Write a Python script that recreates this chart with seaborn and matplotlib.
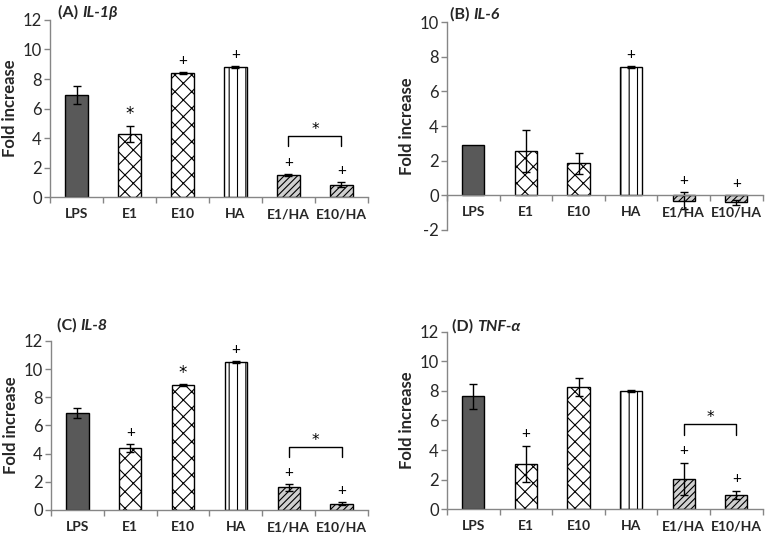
import matplotlib
matplotlib.use('Agg')
import numpy as np
import pandas as pd
import matplotlib.pyplot as plt
import seaborn as sns

# ---------------- data ----------------
categories = ['LPS', 'E1', 'E10', 'HA', 'E1/HA', 'E10/HA']

il1b_mean = [6.9, 4.3, 8.4, 8.8, 1.5, 0.85]
il1b_err = [0.6, 0.55, 0.08, 0.05, 0.05, 0.15]
il1b_marks = ['', '*', '+', '+', '+', '+']

il6_mean = [2.9, 2.55, 1.85, 7.4, -0.3, -0.4]
il6_err = [0.0, 1.2, 0.6, 0.05, 0.5, 0.15]
il6_marks = ['', '', '', '+', '+', '+']

il8_mean = [6.9, 4.4, 8.85, 10.5, 1.6, 0.45]
il8_err = [0.35, 0.3, 0.07, 0.07, 0.25, 0.12]
il8_marks = ['', '+', '*', '+', '+', '+']

tnf_mean = [7.65, 3.05, 8.25, 8.0, 2.05, 0.95]
tnf_err = [0.85, 1.25, 0.6, 0.05, 1.1, 0.3]
tnf_marks = ['', '+', '', '', '+', '+']

panel_labels = ['(A) ', '(B) ', '(C) ', '(D) ']
gene_names = ['IL-1β', 'IL-6', 'IL-8', 'TNF-α']
bracket_flags = [True, False, True, True]
y_ranges = [(0, 12), (-2, 10), (0, 12), (0, 12)]

# ---------------- style ----------------
sns.set_theme(style='white')
plt.rcParams['font.family'] = ['Lato', 'DejaVu Sans']
plt.rcParams['hatch.linewidth'] = 0.8

axis_grey = '#868686'
bar_styles = [
    dict(fc='#595959', hatch=''),
    dict(fc='white', hatch='xx'),
    dict(fc='white', hatch='xx'),
    dict(fc='white', hatch='||'),
    dict(fc='#d0d0d0', hatch='/////'),
    dict(fc='#d0d0d0', hatch='/////'),
]

fig = plt.figure(figsize=(7.65, 5.37), dpi=100)
rects = [
    [0.0654, 0.633, 0.4156, 0.3298],
    [0.5843, 0.5717, 0.4127, 0.3873],
    [0.0667, 0.0503, 0.4143, 0.3147],
    [0.5843, 0.0521, 0.4127, 0.3297],
]
title_y = [1.0, 1.0, 1.05, 0.99]
title_x = [0.025, 0.01, 0.02, 0.015]

panels = [
    (il1b_mean, il1b_err, il1b_marks),
    (il6_mean, il6_err, il6_marks),
    (il8_mean, il8_err, il8_marks),
    (tnf_mean, tnf_err, tnf_marks),
]


def style_category_axis(a):
    a.set_xlim(-0.5, 5.5)
    a.set_xticks(np.arange(-0.5, 6, 1))
    a.set_xticklabels([])
    a.set_xticks(np.arange(6), minor=True)
    a.set_xticklabels(categories, minor=True, fontweight='bold', fontsize=10)
    a.tick_params(axis='x', which='major', bottom=True, length=4, width=1,
                  color=axis_grey, direction='out')
    a.tick_params(axis='x', which='minor', bottom=True, length=0, pad=8)
    a.spines['bottom'].set_color(axis_grey)
    a.spines['bottom'].set_linewidth(1.0)
    a.set_xlabel('')


for i, (means, errs, marks) in enumerate(panels):
    ax = fig.add_axes(rects[i])
    lo, hi = y_ranges[i]

    df = pd.DataFrame({'cat': categories, 'val': means})
    sns.barplot(data=df, x='cat', y='val', order=categories, ax=ax,
                width=0.42, color='white', edgecolor='black', linewidth=1.0,
                errorbar=None, zorder=2)
    for p, st in zip(ax.patches, bar_styles):
        p.set_facecolor(st['fc'])
        p.set_hatch(st['hatch'])
        p.set_edgecolor('black')
        p.set_linewidth(1.0)
    xs = [p.get_x() + p.get_width() / 2 for p in ax.patches]
    ex = [x for x, e in zip(xs, errs) if e > 0]
    em = [m for m, e in zip(means, errs) if e > 0]
    ee = [e for e in errs if e > 0]
    ax.errorbar(ex, em, yerr=ee, fmt='none', ecolor='black',
                elinewidth=1.0, capsize=3, capthick=1.0, zorder=3)

    # significance marks
    for x, m, e, mk in zip(xs, means, errs, marks):
        if mk:
            ax.annotate(mk, xy=(x, max(m + e, 0)), xytext=(0, 8),
                        textcoords='offset points', ha='center', va='center',
                        fontsize=12 if mk == '*' else 11, color='black',
                        family='DejaVu Sans' if mk == '*' else None)
    if bracket_flags[i]:
        top = max(means[4] + errs[4], means[5] + errs[5]) + 2.6
        ax.plot([xs[4], xs[4], xs[5], xs[5]], [top - 0.7, top, top, top - 0.7],
                color='black', lw=1.0)
        ax.text((xs[4] + xs[5]) / 2, top + 0.45, '*', ha='center', va='center',
                fontsize=11, color='black', family='DejaVu Sans')

    for s in ['top', 'right']:
        ax.spines[s].set_visible(False)
    ax.spines['left'].set_color(axis_grey)
    ax.spines['left'].set_linewidth(1.0)

    ax.set_ylim(lo, hi)
    ax.set_yticks(np.arange(lo, hi + 0.1, 2))
    ax.set_yticklabels([f'{v:g}' for v in np.arange(lo, hi + 0.1, 2)], fontsize=12)
    ax.tick_params(axis='y', left=True, length=4, width=1, color=axis_grey,
                   direction='out', pad=2)
    ax.set_ylabel('Fold increase', fontsize=12, fontweight='bold', labelpad=3)
    ax.set_xlabel('')

    if lo < 0:
        # category axis drawn along the zero line with an overlay axes
        ax.spines['bottom'].set_visible(False)
        ax.set_xlim(-0.5, 5.5)
        ax.tick_params(axis='x', which='both', bottom=False, labelbottom=False)
        l, b, w, h = rects[i]
        frac = (0 - lo) / (hi - lo)
        ax0 = fig.add_axes([l, b + h * frac, w, h * (1 - frac)], sharex=ax)
        ax0.patch.set_visible(False)
        for s in ['top', 'right', 'left']:
            ax0.spines[s].set_visible(False)
        ax0.set_yticks([])
        style_category_axis(ax0)
    else:
        style_category_axis(ax)

    t = ax.text(title_x[i], title_y[i], panel_labels[i], transform=ax.transAxes,
                ha='left', va='bottom', fontsize=11.5, fontweight='bold')
    ax.annotate(gene_names[i], xy=(1, 0), xycoords=t, ha='left', va='bottom',
                fontsize=11.5, fontweight='bold', fontstyle='italic')

fig.savefig('out.png', dpi=100)
